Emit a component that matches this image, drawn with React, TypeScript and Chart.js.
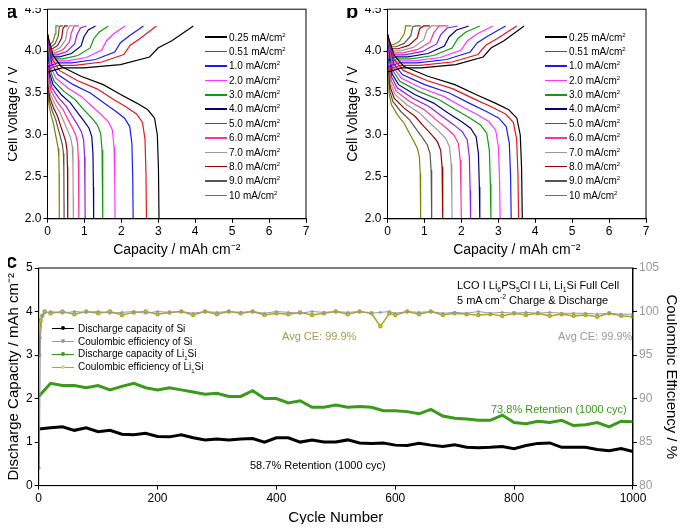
import React, { useEffect, useRef } from "react";
import { Chart, registerables } from "chart.js";
Chart.register(...registerables);

const rates = ["0.25", "0.51", "1.0", "2.0", "3.0", "4.0", "5.0", "6.0", "7.0", "8.0", "9.0", "10"];
const rateColors = ["#000000", "#e8161b", "#1c1cf0", "#ff33ff", "#119911", "#000080", "#8a1ee6", "#ff3399", "#999999", "#990000", "#555555", "#808000"];
// panel a
const aDischargeCap = [3.02, 2.68, 2.32, 1.83, 1.5, 1.25, 1.02, 0.85, 0.7, 0.55, 0.45, 0.32];
const aChargeCap = [3.95, 2.95, 2.6, 2.1, 1.65, 1.3, 1.05, 0.85, 0.7, 0.55, 0.42, 0.3];
// panel b
const bDischargeCap = [3.65, 3.55, 3.35, 3.05, 2.8, 2.5, 2.25, 2.0, 1.75, 1.5, 1.2, 0.9];
const bChargeCap = [3.7, 3.5, 3.2, 2.85, 2.5, 2.2, 1.9, 1.65, 1.4, 1.15, 0.9, 0.65];
const polarization = [0, 0.05, 0.1, 0.14, 0.18, 0.22, 0.26, 0.3, 0.34, 0.38, 0.42, 0.46];
const dischargeShape = [[0, 4.2], [0.05, 3.95], [0.12, 3.82], [0.3, 3.7], [0.5, 3.6], [0.66, 3.48], [0.8, 3.38], [0.9, 3.3], [0.96, 3.2], [0.985, 3.0], [0.995, 2.6], [1, 2.0]];
const chargeShape = [[0, 3.75], [0.1, 3.8], [0.25, 3.8], [0.5, 3.84], [0.7, 3.93], [0.76, 4.04], [0.85, 4.12], [1, 4.3]];
// panel c
const cycles = [0, 20, 40, 60, 80, 100, 120, 140, 160, 180, 200, 220, 240, 260, 280, 300, 320, 340, 360, 380, 400, 420, 440, 460, 480, 500, 520, 540, 560, 580, 600, 620, 640, 660, 680, 700, 720, 740, 760, 780, 800, 820, 840, 860, 880, 900, 920, 940, 960, 980, 1000];
const capSi = [1.3, 1.33, 1.35, 1.27, 1.33, 1.24, 1.27, 1.18, 1.17, 1.2, 1.13, 1.12, 1.17, 1.1, 1.05, 1.07, 1.05, 1.07, 1.08, 1.0, 1.1, 1.1, 1.0, 1.05, 1.0, 1.0, 1.05, 0.98, 0.97, 0.98, 0.93, 0.92, 0.97, 0.93, 0.9, 0.94, 0.88, 0.87, 0.88, 0.9, 0.85, 0.92, 0.97, 0.98, 0.88, 0.88, 0.88, 0.83, 0.8, 0.85, 0.78];
const capLiSi = [2.05, 2.35, 2.3, 2.3, 2.25, 2.3, 2.2, 2.28, 2.35, 2.25, 2.2, 2.25, 2.2, 2.15, 2.1, 2.12, 2.05, 2.05, 2.18, 2.0, 2.0, 1.9, 1.95, 1.8, 1.8, 1.85, 1.8, 1.82, 1.8, 1.72, 1.72, 1.7, 1.65, 1.75, 1.6, 1.55, 1.53, 1.5, 1.5, 1.62, 1.45, 1.42, 1.48, 1.45, 1.5, 1.38, 1.4, 1.45, 1.35, 1.48, 1.47];
const ceCycles = [1, 3, 6, 10, 20, 40, 60, 80, 100, 120, 140, 160, 180, 200, 220, 240, 260, 280, 300, 320, 340, 360, 380, 400, 420, 440, 460, 480, 500, 520, 540, 560, 575, 590, 600, 620, 640, 660, 680, 700, 720, 740, 760, 780, 800, 820, 840, 860, 880, 900, 920, 940, 960, 980, 1000];
const ceSi = [82, 97, 99.5, 99.8, 100, 99.8, 100, 99.9, 100, 99.8, 99.9, 100, 99.8, 100, 99.9, 100, 99.8, 100, 99.9, 100, 99.9, 100, 99.8, 100, 99.9, 99.8, 100, 99.9, 100, 99.9, 100, 99.8, 99.9, 100, 99.8, 100, 99.9, 100, 99.8, 99.9, 99.8, 100, 99.8, 99.9, 99.8, 99.9, 99.8, 99.9, 99.8, 99.8, 99.8, 99.7, 99.8, 99.7, 99.7];
const ceLiSi = [95, 99, 99.5, 100, 99.8, 100, 99.7, 100, 99.8, 100, 99.6, 99.9, 100, 99.7, 99.9, 100, 99.6, 100, 99.7, 100, 99.8, 100, 99.6, 99.8, 99.7, 99.9, 99.6, 99.8, 100, 99.7, 100, 99.8, 98.3, 99.8, 99.6, 100, 99.7, 100, 99.6, 99.8, 99.7, 99.6, 99.7, 99.5, 99.8, 99.6, 99.8, 99.5, 99.7, 99.5, 99.6, 99.4, 99.8, 99.5, 99.4];

const FONT = "'Liberation Sans', Arial, sans-serif";

const framePlugin = {
  id: "frame",
  afterDraw(chart: any) {
    const { ctx, chartArea: a } = chart;
    ctx.save();
    ctx.strokeStyle = "#000";
    ctx.lineWidth = 1;
    ctx.strokeRect(a.left, a.top, a.right - a.left, a.bottom - a.top);
    ctx.restore();
  },
};

function curveDatasets(dis: number[], chg: number[]) {
  const ds: any[] = [];
  rates.forEach((r, i) => {
    const off = polarization[i];
    ds.push({
      data: chargeShape.map(([f, v], k) => ({ x: f * chg[i], y: Math.min(4.3, k === chargeShape.length - 1 ? 4.3 : v + off * 0.6) })),
      borderColor: rateColors[i], borderWidth: 1.2, pointRadius: 0,
    });
    ds.push({
      data: dischargeShape.map(([f, v], k) => ({ x: f * dis[i], y: k === 0 || k === dischargeShape.length - 1 ? v : Math.max(2.0, v - off) })),
      borderColor: rateColors[i], borderWidth: 1.2, pointRadius: 0,
    });
  });
  return ds;
}

function axis(min: number, max: number, step: number, title: string, fmt?: (v: number) => string, color = "#000", titleSize = 14) {
  return {
    type: "linear", min, max,
    ticks: { stepSize: step, color, font: { family: FONT, size: 12 }, callback: fmt ? (v: any) => fmt(v) : undefined, padding: 2 },
    grid: { drawOnChartArea: false, tickLength: 4, color: "#000" },
    border: { color: "#000" },
    title: { display: !!title, text: title, color: "#000", font: { family: FONT, size: titleSize }, padding: 1 },
  } as any;
}

function useChart(ref: any, cfg: () => any) {
  useEffect(() => {
    const c = new Chart(ref.current, cfg());
    return () => c.destroy();
  }, []);
}

function PanelAB({ dis, chg, left }: { dis: number[]; chg: number[]; left: number }) {
  const ref = useRef<HTMLCanvasElement>(null);
  useChart(ref, () => ({
    type: "line",
    data: { datasets: curveDatasets(dis, chg) },
    options: {
      animation: false, responsive: false,
      layout: { padding: { top: 8, right: 34, left: 4 } },
      plugins: { legend: { display: false }, tooltip: { enabled: false } },
      scales: {
        x: axis(0, 7, 1, "Capacity / mAh cm⁻²"),
        y: axis(2.0, 4.5, 0.5, "Cell Voltage / V", (v) => v.toFixed(1)),
      },
    },
    plugins: [framePlugin],
  }));
  return (
    <div style={{ position: "absolute", left, top: 0, width: 340, height: 260 }}>
      <canvas ref={ref} width={340} height={260} />
      <div style={{ position: "absolute", left: 205, top: 30, fontFamily: FONT, fontSize: 10 }}>
        {rates.map((r, i) => (
          <div key={r} style={{ display: "flex", alignItems: "center", height: 14.4 }}>
            <span style={{ display: "inline-block", width: 22, height: 1.5, background: rateColors[i], marginRight: 2 }} />
            <span>{r} mA/cm<sup style={{ fontSize: 6 }}>2</sup></span>
          </div>
        ))}
      </div>
    </div>
  );
}

function PanelC() {
  const ref = useRef<HTMLCanvasElement>(null);
  useChart(ref, () => ({
    type: "line",
    data: {
      datasets: [
        { data: ceCycles.map((c, i) => ({ x: c, y: ceSi[i] })), yAxisID: "y1", borderColor: "#999", borderWidth: 1, pointRadius: 1, pointBackgroundColor: "#999", pointBorderColor: "#999" },
        { data: ceCycles.map((c, i) => ({ x: c, y: ceLiSi[i] })), yAxisID: "y1", borderColor: "#a8a820", borderWidth: 1.5, pointRadius: 1.5, pointBackgroundColor: "#d8d870", pointBorderColor: "#a8a820" },
        { data: cycles.map((c, i) => ({ x: c, y: capSi[i] })), yAxisID: "y", borderColor: "#000", borderWidth: 3, pointRadius: 0 },
        { data: cycles.map((c, i) => ({ x: c, y: capLiSi[i] })), yAxisID: "y", borderColor: "#3a9a1a", borderWidth: 3, pointRadius: 0 },
      ],
    },
    options: {
      animation: false, responsive: false,
      layout: { padding: { top: 16, right: 4, left: 4, bottom: 4 } },
      plugins: { legend: { display: false }, tooltip: { enabled: false } },
      scales: {
        x: axis(0, 1000, 200, "Cycle Number", undefined, "#000", 15),
        y: { ...axis(0, 5, 1, "Discharge Capacity / mAh cm⁻²", undefined, "#000", 15), position: "left" },
        y1: { ...axis(80, 105, 5, "Coulombic Efficiency / %", undefined, "#999", 15), position: "right" },
      },
    },
    plugins: [framePlugin],
  }));
  const legend = [
    ["Discharge capacity of Si", "#000", "#000"],
    ["Coulombic efficiency of Si", "#999", "#999"],
    ["Discharge capacity of Li", "#3a9a1a", "#3a9a1a"],
    ["Coulombic efficiency of Li", "#a8a820", "#d8d870"],
  ];
  const sub = { fontSize: 7, lineHeight: 0 } as any;
  return (
    <div style={{ position: "absolute", left: 0, top: 252, width: 685, height: 280 }}>
      <canvas ref={ref} width={685} height={280} />
      <div style={{ position: "absolute", left: 52, top: 70, fontFamily: FONT, fontSize: 10 }}>
        {legend.map(([t, c, f], i) => (
          <div key={i} style={{ display: "flex", alignItems: "center", height: 13 }}>
            <span style={{ position: "relative", display: "inline-block", width: 22, height: 1.5, background: c, marginRight: 4 }}>
              <span style={{ position: "absolute", left: 9, top: -2, width: 4, height: 4, borderRadius: 2, background: f }} />
            </span>
            <span>{t}{i >= 2 ? <><sub style={{ fontSize: 6 }}>1</sub>Si</> : null}</span>
          </div>
        ))}
      </div>
      <div style={{ position: "absolute", left: 457, top: 26, fontFamily: FONT, fontSize: 11, lineHeight: "15px" }}>
        LCO I Li<sub style={sub}>6</sub>PS<sub style={sub}>5</sub>Cl I Li, Li<sub style={sub}>1</sub>Si Full Cell<br />
        5 mA cm<sup style={sub}>-2</sup> Charge &amp; Discharge
      </div>
      <div style={{ position: "absolute", left: 282, top: 78, fontFamily: FONT, fontSize: 11, color: "#a0a050" }}>Avg CE: 99.9%</div>
      <div style={{ position: "absolute", left: 558, top: 78, fontFamily: FONT, fontSize: 11, color: "#999" }}>Avg CE: 99.9%</div>
      <div style={{ position: "absolute", left: 491, top: 151, fontFamily: FONT, fontSize: 11, color: "#3a9a1a" }}>73.8% Retention (1000 cyc)</div>
      <div style={{ position: "absolute", left: 250, top: 207, fontFamily: FONT, fontSize: 11 }}>58.7% Retention (1000 cyc)</div>
    </div>
  );
}

export default function App() {
  return (
    <div style={{ position: "relative", width: 685, height: 532, margin: -8, background: "#fff", overflow: "hidden" }}>
      <PanelC />
      <PanelAB dis={aDischargeCap} chg={aChargeCap} left={0} />
      <PanelAB dis={bDischargeCap} chg={bChargeCap} left={340} />
      <div style={{ position: "absolute", left: 6, top: 0, fontFamily: FONT, fontWeight: "bold", fontSize: 20 }}>a</div>
      <div style={{ position: "absolute", left: 346, top: 0, fontFamily: FONT, fontWeight: "bold", fontSize: 20 }}>b</div>
      <div style={{ position: "absolute", left: 6, top: 250, fontFamily: FONT, fontWeight: "bold", fontSize: 20 }}>c</div>
    </div>
  );
}
